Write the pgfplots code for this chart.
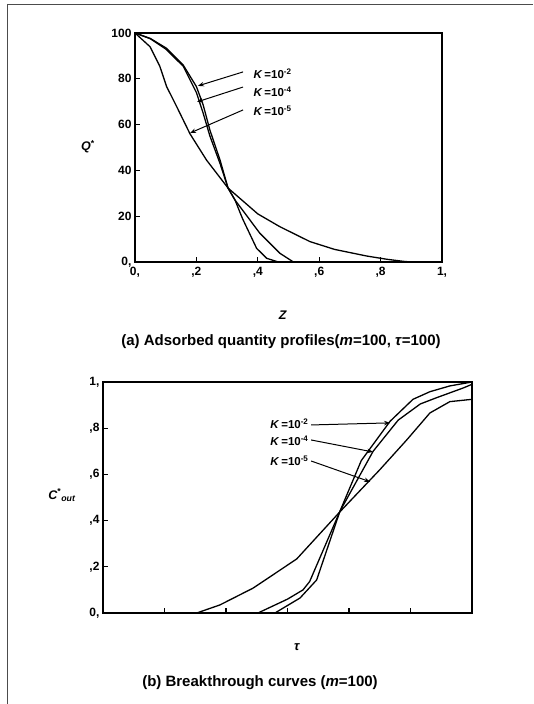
\documentclass[border=0pt]{standalone}
\usepackage{pgfplots}
\pgfplotsset{compat=1.18}
\usepackage{fontspec}
\setmainfont{Liberation Sans}
\usetikzlibrary{arrows.meta}
\tikzset{
  crv/.style={black, line width=1.3pt},
  arr/.style={-{Stealth[length=6pt,width=4.5pt]}, line width=1pt, black}
}
\begin{document}
\begin{tikzpicture}[x=1pt,y=1pt,font=\bfseries\fontsize{11.5}{13}\selectfont]
\useasboundingbox (0,0) rectangle (533,704);
\draw[line width=0.8pt, black!70] (7,700) -- (533,700);
\draw[line width=0.8pt, black!70] (7,700) -- (7,0);
\pgfplotsset{
  myax/.style={scale only axis, anchor=south west,
    axis line style={line width=2.2pt},
    tick align=inside, xtick pos=bottom, ytick pos=left,
    major tick length=5pt, tick style={line width=1.2pt, black},
    tick label style={font=\bfseries\fontsize{12}{14}\selectfont},
    xticklabel style={yshift=-2pt},
    clip=false}
}
\begin{axis}[myax, at={(135pt,442pt)}, width=307pt, height=229pt,
  xmin=0, xmax=1, ymin=0, ymax=100,
  xtick={0,0.2,0.4,0.6,0.8,1}, xticklabels={{0,},{,2},{,4},{,6},{,8},{1,}},
  ytick={0,20,40,60,80,100}, yticklabels={{0,},20,40,60,80,100}]
% K=1e-2
\addplot[crv, no markers] coordinates {(0,100) (0.05,97.6) (0.103,93.3) (0.157,86) (0.2,76.6) (0.222,68.6) (0.244,57.6) (0.277,44.5) (0.303,32.3) (0.326,27) (0.35,19) (0.396,6) (0.429,1.6) (0.467,0)};
% K=1e-4
\addplot[crv, no markers] coordinates {(0,100) (0.05,97.5) (0.1,93) (0.157,85.5) (0.2,74) (0.222,65) (0.244,55) (0.277,43) (0.303,32.3) (0.326,27) (0.407,12.5) (0.472,3.8) (0.516,0)};
% K=1e-5
\addplot[crv, no markers] coordinates {(0,100) (0.049,94) (0.081,85.4) (0.103,76.6) (0.136,67.8) (0.179,56) (0.233,44.5) (0.303,32.3) (0.4,21) (0.472,15.4) (0.57,8.9) (0.65,5.5) (0.755,2.6) (0.82,1.2) (0.873,0.3) (0.9,0)};
\draw[arr] (axis cs:0.352,83) -- (axis cs:0.205,76.9);
\draw[arr] (axis cs:0.352,76.4) -- (axis cs:0.202,69.9);
\draw[arr] (axis cs:0.352,66.4) -- (axis cs:0.179,56.3);
\end{axis}
\begin{axis}[myax, at={(103pt,91pt)}, width=369pt, height=231pt,
  xmin=0, xmax=1, ymin=0, ymax=1,
  xtick={0,0.16667,0.33333,0.5,0.66667,0.83333,1}, xticklabels={},
  ytick={0,0.2,0.4,0.6,0.8,1}, yticklabels={{0,},{,2},{,4},{,6},{,8},{1,}}]
% K=1e-2
\addplot[crv, no markers] coordinates {(0.466,0) (0.534,0.065) (0.579,0.143) (0.642,0.44) (0.70,0.66) (0.778,0.83) (0.84,0.925) (0.886,0.958) (0.94,0.983) (1,1)};
% K=1e-4
\addplot[crv, no markers] coordinates {(0.42,0) (0.50,0.06) (0.542,0.10) (0.56,0.136) (0.642,0.44) (0.732,0.70) (0.80,0.835) (0.86,0.905) (0.904,0.932) (0.976,0.974) (1,0.99)};
% K=1e-5
\addplot[crv, no markers] coordinates {(0.254,0) (0.317,0.035) (0.407,0.108) (0.525,0.234) (0.642,0.438) (0.75,0.62) (0.823,0.749) (0.886,0.866) (0.94,0.915) (1,0.925)};
\draw[arr] (axis cs:0.564,0.814) -- (axis cs:0.778,0.823);
\draw[arr] (axis cs:0.564,0.749) -- (axis cs:0.732,0.697);
\draw[arr] (axis cs:0.564,0.658) -- (axis cs:0.724,0.568);
\end{axis}
% top labels
\node[anchor=west] at (250,630) {\textit{K}\,=10\textsuperscript{-2}};
\node[anchor=west] at (250,612) {\textit{K}\,=10\textsuperscript{-4}};
\node[anchor=west] at (250,593) {\textit{K}\,=10\textsuperscript{-5}};
\node[font=\bfseries\fontsize{12.5}{14}\selectfont] at (88,557) {\textit{Q}\textsuperscript{*}};
\node[font=\bfseries\fontsize{12.5}{14}\selectfont] at (283,389) {\textit{Z}};
\node[font=\bfseries\fontsize{15}{17}\selectfont] at (281,362) {(a) Adsorbed quantity profiles(\textit{m}=100, \textit{τ}=100)};
% bottom labels
\node[anchor=east] at (312,280) {\textit{K}\,=10\textsuperscript{-2}};
\node[anchor=east] at (312,263) {\textit{K}\,=10\textsuperscript{-4}};
\node[anchor=east] at (312,243) {\textit{K}\,=10\textsuperscript{-5}};
\node[font=\bfseries\fontsize{12.5}{14}\selectfont] at (62,209) {\textit{C}\textsuperscript{*}\textsubscript{\textit{out}}};
\node[font=\bfseries\fontsize{13}{15}\selectfont] at (297,57) {\textit{τ}};
\node[font=\bfseries\fontsize{15}{17}\selectfont] at (260,21) {(b) Breakthrough curves (\textit{m}=100)};
\end{tikzpicture}
\end{document}
